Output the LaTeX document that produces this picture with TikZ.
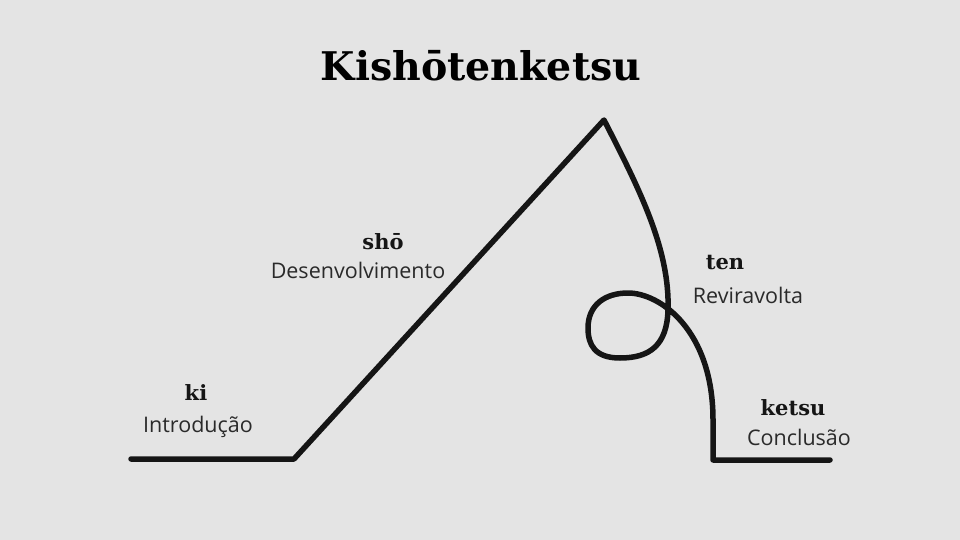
\documentclass[tikz,border=0pt]{standalone}
\usepackage{fontspec}
\setmainfont{Open Sans}
\newfontfamily\headfont{DejaVu Serif}
\definecolor{bg}{HTML}{E4E4E4}
\definecolor{ink}{HTML}{151515}
\definecolor{txt}{HTML}{2A2A2A}
\begin{document}
\begin{tikzpicture}[x=1pt,y=-1pt,
  curve/.style={line width=5.5pt, draw=ink, line join=round, line cap=round},
  stage/.style={font=\headfont\bfseries\fontsize{21}{25}\selectfont, text=ink, inner sep=0pt},
  desc/.style={font=\fontsize{21.5}{26}\selectfont, text=txt, inner sep=0pt},
  titlestyle/.style={font=\headfont\bfseries\fontsize{39.5}{46}\selectfont, text=black, inner sep=0pt}]
\fill[bg] (0,0) rectangle (960,540);
\useasboundingbox (0,0) rectangle (960,540);
\node[titlestyle] (title) at (481,66) {Kishōtenketsu};
\node[stage] (ki) at (196,393) {ki};
\node[desc] (kid) at (198,427) {Introdução};
\node[stage] (sho) at (383,242) {shō};
\node[desc] (shod) at (358,270) {Desenvolvimento};
\node[stage] (ten) at (725,263) {ten};
\node[desc] (tend) at (748,295) {Reviravolta};
\node[stage] (ketsu) at (793,408) {ketsu};
\node[desc] (ketsud) at (799,437) {Conclusão};
\coordinate (start) at (131,459);
\coordinate (foot) at (294,459);
\coordinate (peak) at (604,120);
\coordinate (cross) at (668,310);
\coordinate (end) at (830,460);
\draw[curve] (start) -- (foot) -- (peak)
  .. controls (640,190) and (670,250) .. (cross)
  .. controls (667,345) and (650,358) .. (620,358)
  .. controls (595,358) and (588,345) .. (588,328)
  .. controls (588,305) and (605,293) .. (628,293)
  .. controls (660,293) and (713,330) .. (713,420)
  -- (713,460) -- (end);
\end{tikzpicture}
\end{document}
